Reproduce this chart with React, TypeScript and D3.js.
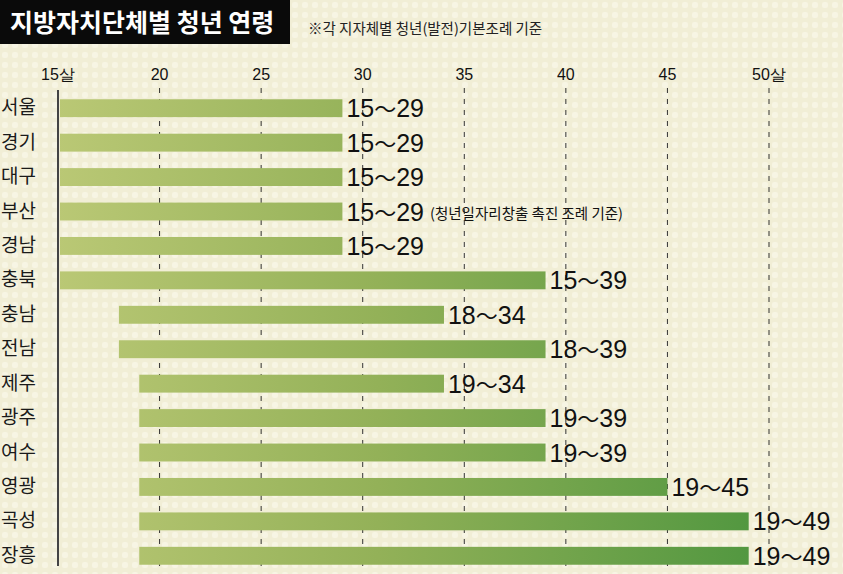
import React, { useEffect, useRef } from 'react';
import * as d3 from 'd3';

// regions (top to bottom) and youth age range from each ordinance
const regions = ['서울', '경기', '대구', '부산', '경남', '충북', '충남', '전남', '제주', '광주', '여수', '영광', '곡성', '장흥'];
const minAge = [15, 15, 15, 15, 15, 15, 18, 18, 19, 19, 19, 19, 19, 19];
const maxAge = [29, 29, 29, 29, 29, 39, 34, 39, 34, 39, 39, 45, 49, 49];
const notes = ['', '', '', '(청년일자리창출 촉진 조례 기준)', '', '', '', '', '', '', '', '', '', ''];
const ticks = [15, 20, 25, 30, 35, 40, 45, 50];
const tickLabels = ['15살', '20', '25', '30', '35', '40', '45', '50살'];

const title = '지방자치단체별 청년 연령';
const subtitle = '※각 지자체별 청년(발전)기본조례 기준';

const W = 843;
const H = 574;
const kr = "'Noto Sans CJK KR', 'Noto Sans', sans-serif";
const narrow = "'Liberation Sans Narrow', 'Liberation Sans', Arial, sans-serif";

export default function App() {
    const ref = useRef<SVGSVGElement>(null);

    useEffect(() => {
        document.body.style.margin = '0';
        const svg = d3.select(ref.current);
        svg.selectAll('*').remove();

        const defs = svg.append('defs');

        // dotted paper background
        const pat = defs.append('pattern')
            .attr('id', 'dots')
            .attr('width', 10)
            .attr('height', 10)
            .attr('patternUnits', 'userSpaceOnUse');
        pat.append('rect').attr('width', 10).attr('height', 10).attr('fill', '#f1eed6');
        pat.append('rect').attr('x', 2).attr('y', 2).attr('width', 6).attr('height', 6)
            .attr('rx', 2).attr('fill', '#f7f5e4');

        const x = d3.scaleLinear().domain([15, 50]).range([58, 769]);
        const y = d3.scaleBand().domain(regions).range([91, 573]).paddingInner(0.48).paddingOuter(0.24);

        const grad = defs.append('linearGradient')
            .attr('id', 'barGrad')
            .attr('gradientUnits', 'userSpaceOnUse')
            .attr('x1', x(15)).attr('x2', x(50))
            .attr('y1', 0).attr('y2', 0);
        grad.append('stop').attr('offset', '0%').attr('stop-color', '#bac875');
        grad.append('stop').attr('offset', '45%').attr('stop-color', '#93b158');
        grad.append('stop').attr('offset', '100%').attr('stop-color', '#4f963f');

        svg.append('rect').attr('width', W).attr('height', H).attr('fill', 'url(#dots)');

        // title box
        svg.append('rect').attr('x', 0).attr('y', 0).attr('width', 290).attr('height', 44).attr('fill', '#0a0a0a');
        svg.append('text')
            .attr('x', 10).attr('y', 32)
            .attr('font-family', kr).attr('font-weight', 700).attr('font-size', 25)
            .attr('fill', '#fff')
            .text(title);
        svg.append('text')
            .attr('x', 308).attr('y', 34)
            .attr('font-family', kr).attr('font-size', 14.5)
            .attr('fill', '#222')
            .text(subtitle);

        // dashed grid
        svg.append('g')
            .selectAll('line')
            .data(ticks.slice(1))
            .enter()
            .append('line')
            .attr('x1', d => x(d)).attr('x2', d => x(d))
            .attr('y1', 88).attr('y2', 572)
            .attr('stroke', '#333')
            .attr('stroke-width', 1)
            .attr('stroke-dasharray', '5,6');

        // axis line at 15
        svg.append('line')
            .attr('x1', x(15)).attr('x2', x(15))
            .attr('y1', 90).attr('y2', 566)
            .attr('stroke', '#444')
            .attr('stroke-width', 2);

        // tick labels
        svg.append('g')
            .selectAll('text')
            .data(ticks)
            .enter()
            .append('text')
            .attr('x', d => x(d))
            .attr('y', 80)
            .attr('text-anchor', 'middle')
            .attr('font-family', narrow)
            .attr('font-size', 16)
            .attr('fill', '#111')
            .text((d, i) => tickLabels[i]);

        const rows = svg.append('g')
            .selectAll('g')
            .data(regions)
            .enter()
            .append('g');

        rows.append('rect')
            .attr('x', (d, i) => x(minAge[i]) + (minAge[i] === 15 ? 2 : 0))
            .attr('y', d => y(d)!)
            .attr('width', (d, i) => x(maxAge[i]) - x(minAge[i]) - (minAge[i] === 15 ? 2 : 0))
            .attr('height', y.bandwidth())
            .attr('fill', 'url(#barGrad)');

        rows.append('text')
            .attr('x', 1)
            .attr('y', d => y(d)! + y.bandwidth() / 2 + 6)
            .attr('font-family', kr)
            .attr('font-size', 19)
            .attr('fill', '#1a1a1a')
            .text(d => d);

        const lbl = rows.append('text')
            .attr('x', (d, i) => x(maxAge[i]) + 4)
            .attr('y', d => y(d)! + y.bandwidth() / 2 + 9)
            .attr('font-family', narrow)
            .attr('font-size', 25)
            .attr('fill', '#111');
        lbl.append('tspan').text((d, i) => `${minAge[i]}`);
        lbl.append('tspan').attr('font-family', kr).attr('font-size', 22).text('～');
        lbl.append('tspan').text((d, i) => `${maxAge[i]}`);
        lbl.append('tspan')
            .attr('dx', 6)
            .attr('dy', -2)
            .attr('font-family', kr)
            .attr('font-size', 14.5)
            .text((d, i) => notes[i]);
    }, []);

    return (
        <div>
            <svg ref={ref} width={W} height={H} style={{ display: 'block' }}></svg>
        </div>
    );
}
